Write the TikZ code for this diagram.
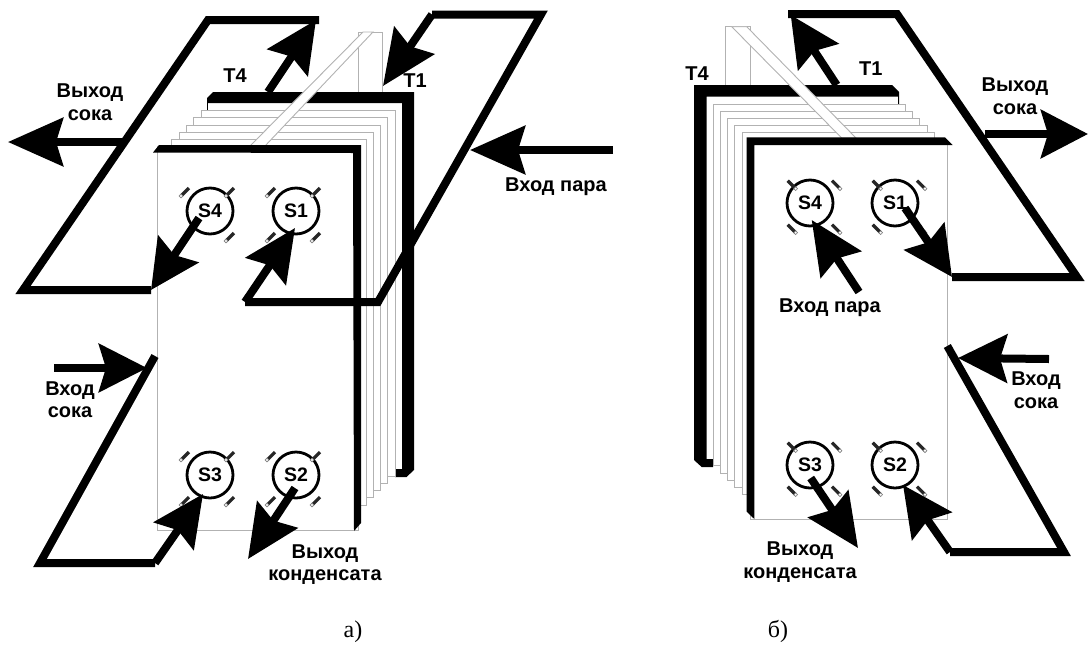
\documentclass[tikz,border=0pt]{standalone}
\usepackage{fontspec}
\setmainfont{Liberation Sans}
\newfontfamily\capfont{Liberation Serif}
\usetikzlibrary{arrows.meta}
\tikzset {
  % thin outline of a plate
  plate/.style = {
    draw = black!30,
    fill = white,
    line width = 0.9pt
  },
  % thick black edge of the first and last plate
  edge/.style = {
    fill = black
  },
  % flow path without arrow
  flow/.style = {
    draw = black,
    line width = 8pt,
    miter limit = 3
  },
  % flow path ending in a big arrow, argument is the head length
  arr/.style = {
    draw = black,
    line width = 8pt,
    -{Stealth[length = #1pt, width = 48pt, inset = 7pt]}
  },
  arr/.default = 51,
  sensor/.style = {
    draw = black,
    circle,
    line width = 2.8pt,
    minimum size = 46pt,
    inner sep = 0,
    font = \fontsize{19.5}{22}\selectfont\bfseries
  },
  lbl/.style = {
    align = center,
    inner sep = 0,
    font = \fontsize{20}{22.5}\selectfont\bfseries
  },
  subcap/.style = {
    inner sep = 0,
    font = \fontsize{24}{26}\selectfont\capfont
  },
  bolt/.pic = {
    \draw[line width = 3.2pt, black!85] (0,0) -- (8,-8);
    \draw[black!50, fill = white, line width = 0.6pt] (0,0) circle (1.9);
  }
}
\begin{document}
\begin{tikzpicture}[x=1pt, y=-1pt]
    \useasboundingbox (0,0) rectangle (1089,646);

    % panel a: plate stack
    \draw[plate, fill = none] (358,92) -- (358,32) -- (382,32) -- (382,92);
    \fill[edge] (207,98) -- (213,92) -- (414,92) -- (414,470) -- (406.5,477)
    -- (395,477) -- (395,469) -- (402,469) -- (402,103) -- (207.8,103)
    -- (207.8,110) -- (207,110) -- cycle;
    \foreach \i in {0,...,4}
      \draw[plate] (201-7.3*\i,110.7+7.2*\i) rectangle (395-7.2*\i,476+7.3*\i);
    \draw[plate] (363,32) -- (373,32) -- (265,146) -- (250,146) -- cycle;
    \draw[plate] (157,146) rectangle (358,530);
    \fill[edge] (153,152.5) -- (159,145) -- (361,145) -- (361,523) -- (354,531)
    -- (353,153) -- cycle;

    \node[sensor] (a-s4) at (210,211) {S4};
    \node[sensor] (a-s1) at (296,211) {S1};
    \node[sensor] (a-s3) at (210,475) {S3};
    \node[sensor] (a-s2) at (296,475) {S2};
    \foreach \cx/\cy in {210/211,296/211,210/475,296/475}
      \foreach \dx/\dy in {-29/-15,16/-15,-29/30,16/30}
        \pic at (\cx+\dx,\cy+\dy) {bolt};

    \coordinate (a-o4) at (199,218);
    \coordinate (a-i1) at (295,228);
    \coordinate (a-i3) at (203,494);
    \coordinate (a-o2) at (295,488);
    \coordinate (a-c1) at (151,290);
    \coordinate (a-c2) at (23,290);
    \coordinate (a-c3) at (208,20);
    \coordinate (a-c4) at (319,20);
    \coordinate (a-c5) at (316,20);
    \coordinate (a-t4) at (268,92);
    \coordinate (a-t1) at (383,86);
    \coordinate (a-d1) at (432,14.5);
    \coordinate (a-d2) at (541,14.5);
    \coordinate (a-d3) at (378,302);
    \coordinate (a-d4) at (245,302);
    \coordinate (a-f1) at (155,356);
    \coordinate (a-f2) at (40,563);
    \coordinate (a-f3) at (155,563);
    \coordinate (a-juice-out) at (122,142);
    \coordinate (a-juice-tip) at (8,142);
    \coordinate (a-steam) at (613,150);
    \coordinate (a-steam-tip) at (470,150);
    \coordinate (a-juice-in) at (54,368);
    \coordinate (a-juice-in-tip) at (147,368);
    \coordinate (a-cond-tip) at (248,559);

    \draw[flow] (a-c1) -- (a-c2) -- (a-c3) -- (a-c4);
    \draw[flow] (a-d1) -- (a-d2) -- (a-d3) -- (a-d4);
    \draw[flow] (a-f1) -- (a-f2) -- (a-f3);
    \draw[arr=49] (a-o4) -- (a-c1);
    \draw[arr] (a-t4) -- (a-c5);
    \draw[arr=55] (a-d1) -- (a-t1);
    \draw[arr=52] (a-d4) -- (a-i1);
    \draw[arr] (a-f3) -- (a-i3);
    \draw[arr=53] (a-o2) -- (a-cond-tip);
    \draw[arr=55] (a-juice-out) -- (a-juice-tip);
    \draw[arr=55] (a-steam) -- (a-steam-tip);
    \draw[arr=48] (a-juice-in) -- (a-juice-in-tip);

    \node[lbl] (a-t4-lbl) at (235,76) {T4};
    \node[lbl] (a-t1-lbl) at (415,81) {T1};
    \node[lbl] (a-out-lbl) at (90,102) {Выход\\сока};
    \node[lbl] (a-steam-lbl) at (556,187) {Вход пара};
    \node[lbl] (a-in-lbl) at (70,399.5) {Вход\\сока};
    \node[lbl] (a-cond-lbl) at (325,564.5) {Выход\\конденсата};
    \node[subcap] (a-cap) at (353,632) {а)};

    % panel b: plate stack
    \draw[plate, fill = none] (725,85) -- (725,26.7) -- (750,26.7) -- (750,85);
    \fill[edge] (694,85) -- (892,85) -- (899,92) -- (899,104) -- (898,104)
    -- (898,96.7) -- (706.7,96.7) -- (706.7,459) -- (713,459) -- (713,467)
    -- (701.7,467) -- (694,460) -- cycle;
    \foreach \i in {0,...,4}
      \draw[plate] (713.3+7.2*\i,104+7.2*\i) rectangle (905.7+7.1*\i,465.7+7.3*\i);
    \draw[plate] (731.7,26.7) -- (746.7,26.7) -- (856,138) -- (841.7,138) -- cycle;
    \draw[plate] (750,141) rectangle (947.3,519);
    \fill[edge] (746.7,137.3) -- (945,137.3) -- (952.7,145) -- (754.3,145)
    -- (754.3,519) -- (746.7,511.7) -- cycle;

    \node[sensor] (b-s4) at (810,203) {S4};
    \node[sensor] (b-s1) at (895,203) {S1};
    \node[sensor] (b-s3) at (810,465) {S3};
    \node[sensor] (b-s2) at (895,465) {S2};
    \foreach \cx/\cy in {810/203,895/203,810/465,895/465}
      \foreach \dx/\dy in {-14.3/-14.3,30/-14.3,-14.3/29.7,30/29.7}
        \pic[xscale=-1] at (\cx+\dx,\cy+\dy) {bolt};

    \coordinate (b-o1) at (905,208);
    \coordinate (b-i4) at (811.7,220);
    \coordinate (b-i2) at (903,485);
    \coordinate (b-o3) at (810.7,478);
    \coordinate (b-c1) at (952,277);
    \coordinate (b-c2) at (1077,277);
    \coordinate (b-c3) at (897,14);
    \coordinate (b-c4) at (788,14);
    \coordinate (b-c5) at (790.7,15);
    \coordinate (b-t1) at (836.7,85);
    \coordinate (b-f1) at (947.3,346);
    \coordinate (b-f2) at (1064,552);
    \coordinate (b-f3) at (950,552);
    \coordinate (b-juice-out) at (985,134);
    \coordinate (b-juice-tip) at (1088,134);
    \coordinate (b-steam) at (859,292);
    \coordinate (b-juice-in) at (1049,359);
    \coordinate (b-juice-in-tip) at (958,358);
    \coordinate (b-cond-tip) at (858,548);

    \draw[flow] (b-c1) -- (b-c2) -- (b-c3) -- (b-c4);
    \draw[flow] (b-f1) -- (b-f2) -- (b-f3);
    \draw[arr=49] (b-o1) -- (b-c1);
    \draw[arr=50] (b-t1) -- (b-c5);
    \draw[arr=53] (b-steam) -- (b-i4);
    \draw[arr=50] (b-f3) -- (b-i2);
    \draw[arr=53] (b-o3) -- (b-cond-tip);
    \draw[arr=47] (b-juice-out) -- (b-juice-tip);
    \draw[arr=49] (b-juice-in) -- (b-juice-in-tip);

    \node[lbl] (b-t4-lbl) at (697,74) {T4};
    \node[lbl] (b-t1-lbl) at (870.7,69) {T1};
    \node[lbl] (b-out-lbl) at (1015,96) {Выход\\сока};
    \node[lbl] (b-steam-lbl) at (830,308) {Вход пара};
    \node[lbl] (b-in-lbl) at (1036,390) {Вход\\сока};
    \node[lbl] (b-cond-lbl) at (800,562) {Выход\\конденсата};
    \node[subcap] (b-cap) at (778,631) {б)};
  \end{tikzpicture}
\end{document}
